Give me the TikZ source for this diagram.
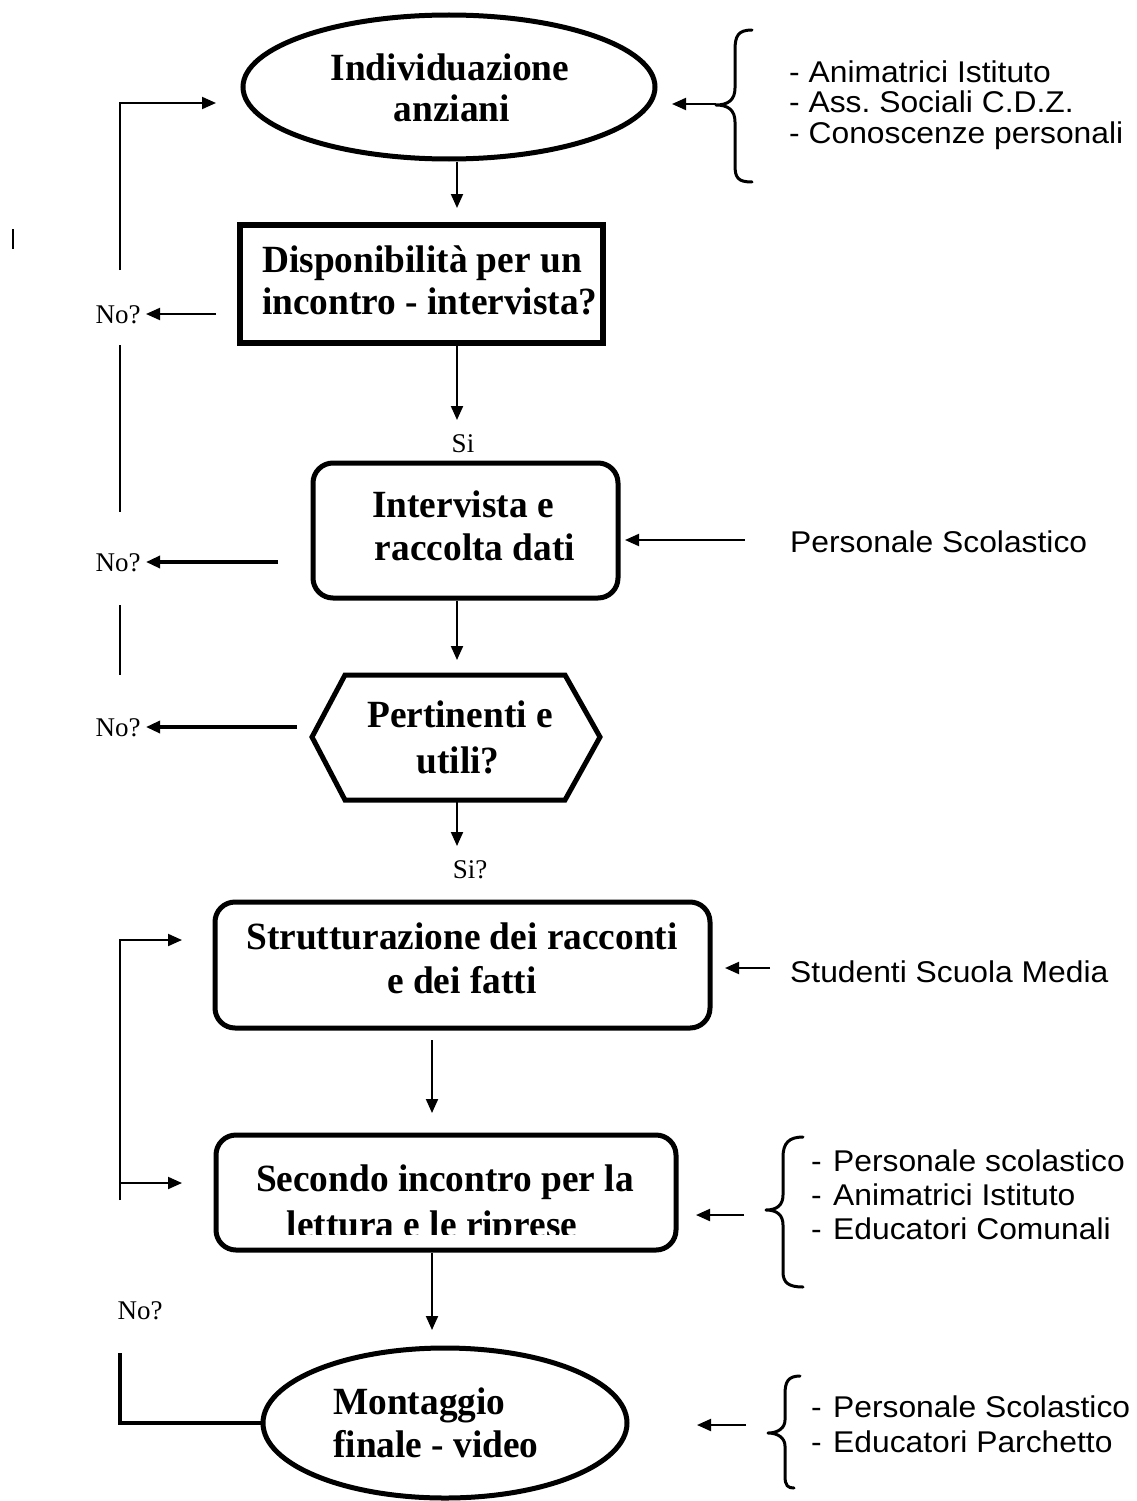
\documentclass[tikz,border=0pt]{standalone}
\usepackage{fontspec}
\setmainfont{Liberation Serif}
\newfontfamily\sansf[FakeStretch=1.06]{Liberation Sans}
\newfontfamily\boldf[FakeStretch=0.97]{Liberation Serif Bold}
\usetikzlibrary{arrows.meta,shapes.geometric}
\frenchspacing
\begin{document}
\begin{tikzpicture}[x=1pt,y=-1pt,
  bold/.style={font=\boldf\fontsize{38.5}{41}\selectfont, inner sep=0pt, anchor=base},
  lab/.style={font=\fontsize{27}{30}\selectfont, inner sep=0pt, anchor=base},
  sans/.style={font=\sansf\fontsize{30}{30}\selectfont, inner sep=0pt, anchor=base west},
  arr/.style={line width=2pt, -{Triangle[length=14pt,width=12pt]}},
  arrb/.style={line width=3.2pt, -{Triangle[length=14pt,width=12pt]}},
  ln/.style={line width=2pt},
  shp/.style={draw, line width=5pt, inner sep=0pt},
  rbox/.style={shp, rectangle, rounded corners=20pt},
  brace/.style={line width=3pt, line cap=round, line join=round}
]
\useasboundingbox (0,0) rectangle (1137,1501);

% ---------- shapes ----------
\node[shp, ellipse, minimum width=412pt, minimum height=144pt] (e1) at (449,87) {};
\node[shp, rectangle, line width=6pt, minimum width=363pt, minimum height=118pt] (b2) at (421.5,284) {};
\node[rbox, minimum width=305pt, minimum height=135pt] (b3) at (465.5,530.5) {};
\coordinate (hx) at (456,737);
\draw[line width=5pt, line join=miter] (312,737) -- (345,675) -- (565,675) -- (600,737) -- (565,800) -- (345,800) -- cycle;
\node[inner sep=0pt, minimum width=288pt, minimum height=125pt] (h4) at (hx) {};
\node[rbox, minimum width=495pt, minimum height=126pt] (b5) at (462.5,965) {};
\node[rbox, minimum width=460pt, minimum height=115pt] (b6) at (446,1192.5) {};
\node[shp, ellipse, minimum width=364pt, minimum height=150pt] (e7) at (445,1423) {};

% ---------- texts in shapes ----------
\node[bold] (t1a) at (450,81) {Individuazione};
\node[bold] (t1b) at (452,122) {anziani};
\node[bold, anchor=base west] (t2a) at (262,272) {Disponibilità per un};
\node[bold, anchor=base west] (t2b) at (262,314) {incontro - intervista?};
\node[bold] (t3a) at (463,517) {Intervista e};
\node[bold] (t3b) at (475,560) {raccolta dati};
\node[bold] (t4a) at (460,727) {Pertinenti e};
\node[bold] (t4b) at (458,773) {utili?};
\node[bold] (t5a) at (462,949) {Strutturazione dei racconti};
\node[bold] (t5b) at (462,993) {e dei fatti};
\node[bold] (t6a) at (445,1191) {Secondo incontro per la};
\begin{scope}
  \clip (220,1140) rectangle (680,1234);
  \node[bold] (t6b) at (432,1237) {lettura e le riprese};
\end{scope}
\node[bold, anchor=base west] (t7a) at (333,1414) {Montaggio};
\node[bold, anchor=base west] (t7b) at (333,1457) {finale - video};

% ---------- main flow ----------
\draw[arr] (e1.south -| 457,0) -- (457,208);
\draw[arr] (b2.south -| 457,0) -- (457,420);
\node[lab] (si1) at (463,452) {Si};
\draw[arr] (b3.south -| 457,0) -- (457,660);
\draw[arr] (457,800) -- (457,846);
\node[lab] (si2) at (470,878) {Si?};
\draw[arr] (432,1040) -- (432,1113);
\draw[arr] (b6.south -| 432,0) -- (432,1330);

% ---------- left feedback ----------
\draw[ln] (13,229) -- (13,249);
\coordinate (fb1) at (120,270);
\draw[arr] (fb1) -- (120,103) -- (216,103);
\node[lab] (no1) at (118,323) {No?};
\draw[arr] (216,314) -- (146,314);
\draw[ln] (120,345) -- (120,512);
\node[lab] (no2) at (118,571) {No?};
\draw[arrb] (278,562) -- (146,562);
\draw[ln] (120,605) -- (120,675);
\node[lab] (no3) at (118,736) {No?};
\draw[arrb] (297,727) -- (146,727);
\coordinate (fb2) at (120,1200);
\draw[arr] (fb2) -- (120,940) -- (182,940);
\draw[arr] (120,1183) -- (182,1183);
\node[lab] (no4) at (140,1319) {No?};
\draw[line width=3.2pt] (e7.west) -- (120,1423) -- (120,1353);

% ---------- right side ----------
\draw[brace] (752,30) .. controls (738,30) and (735,36) .. (735,50) -- (735,88)
  .. controls (735,100) and (728,105) .. (716,105)
  .. controls (728,105) and (735,110) .. (735,122) -- (735,165)
  .. controls (735,178) and (738,182) .. (752,182);
\draw[arr] (716,104) -- (672,104);
\node[sans] (r1a) at (789,83) {- Animatrici Istituto};
\node[sans] (r1b) at (789,113) {- Ass. Sociali C.D.Z.};
\node[sans] (r1c) at (789,143) {- Conoscenze personali};

\draw[arr] (745,540) -- (625,540);
\node[sans] (r2) at (790,552) {Personale Scolastico};

\draw[arr] (770,968) -- (725,968);
\node[sans] (r3) at (790,982) {Studenti Scuola Media};

\draw[arr] (744,1215) -- (696,1215);
\draw[brace] (803,1137) .. controls (789,1137) and (783,1143) .. (783,1157) -- (783,1195)
  .. controls (783,1205) and (777,1210) .. (766,1210)
  .. controls (777,1210) and (783,1215) .. (783,1225) -- (783,1272)
  .. controls (783,1283) and (789,1287) .. (803,1287);
\node[sans] (r4a) at (811,1171) {\makebox[22pt][l]{-}Personale scolastico};
\node[sans] (r4b) at (811,1205) {\makebox[22pt][l]{-}Animatrici Istituto};
\node[sans] (r4c) at (811,1239) {\makebox[22pt][l]{-}Educatori Comunali};

\draw[arr] (746,1425) -- (697,1425);
\draw[brace] (800,1376) .. controls (788,1376) and (785,1382) .. (785,1394) -- (785,1420)
  .. controls (785,1428) and (778,1433) .. (768,1433)
  .. controls (778,1433) and (785,1438) .. (785,1446) -- (785,1476)
  .. controls (785,1486) and (788,1488) .. (794,1488);
\node[sans] (r5a) at (811,1417) {\makebox[22pt][l]{-}Personale Scolastico};
\node[sans] (r5b) at (811,1452) {\makebox[22pt][l]{-}Educatori Parchetto};
\end{tikzpicture}
\end{document}
